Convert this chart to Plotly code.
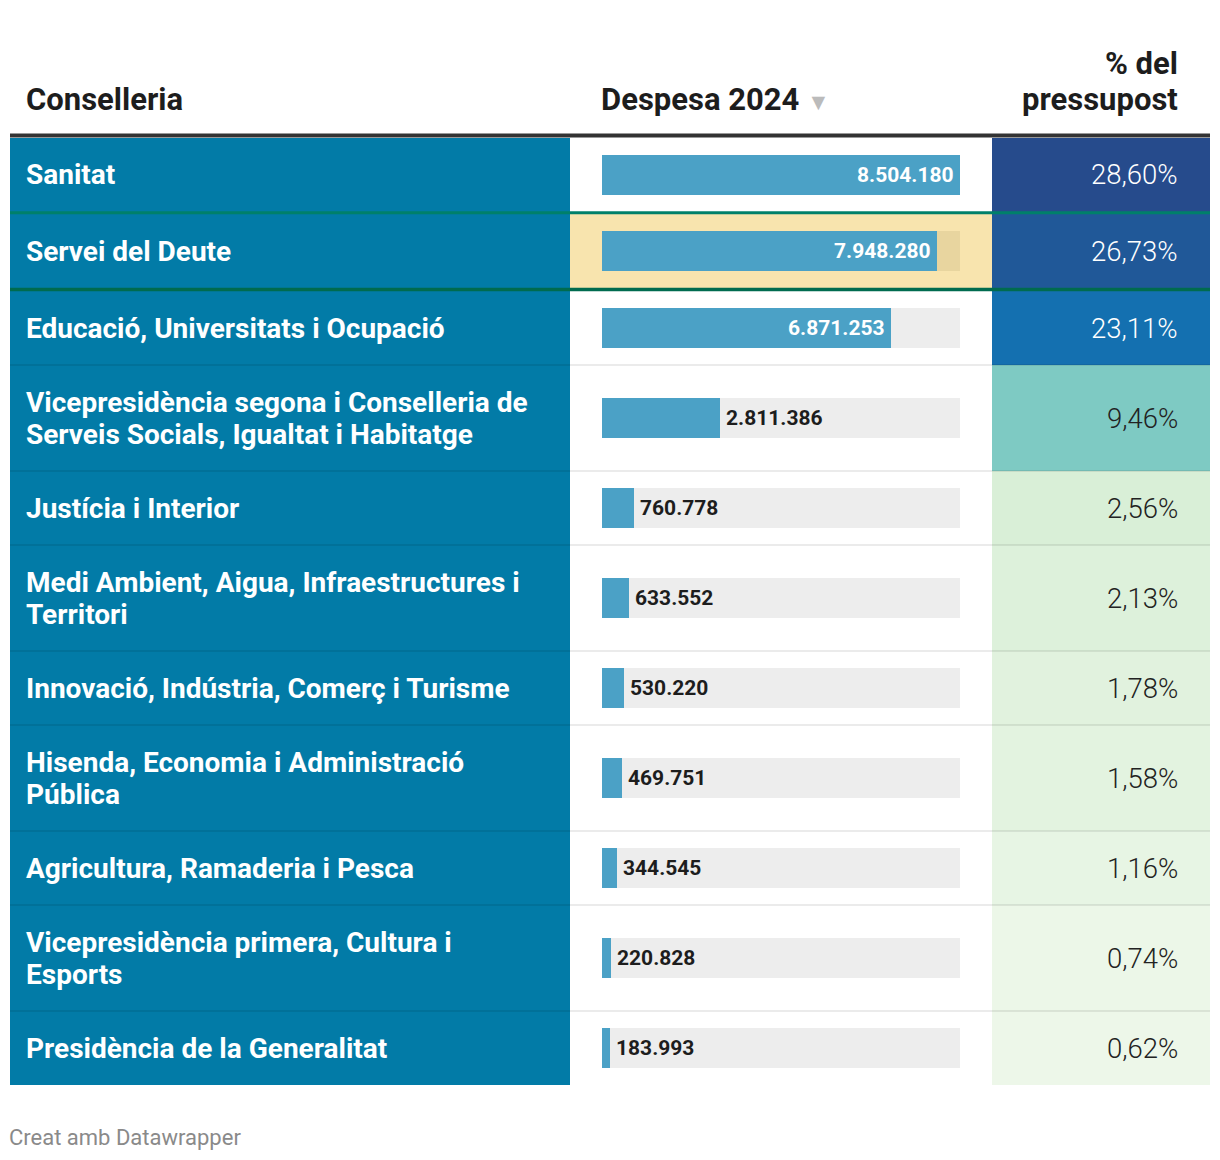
import plotly.graph_objects as go

# ---------------- data ----------------
conselleries = [
    "Sanitat",
    "Servei del Deute",
    "Educació, Universitats i Ocupació",
    "Vicepresidència segona i Conselleria de\nServeis Socials, Igualtat i Habitatge",
    "Justícia i Interior",
    "Medi Ambient, Aigua, Infraestructures i\nTerritori",
    "Innovació, Indústria, Comerç i Turisme",
    "Hisenda, Economia i Administració\nPública",
    "Agricultura, Ramaderia i Pesca",
    "Vicepresidència primera, Cultura i\nEsports",
    "Presidència de la Generalitat",
]
despesa = [8504180, 7948280, 6871253, 2811386, 760778, 633552, 530220,
           469751, 344545, 220828, 183993]
pct_pressupost = [28.60, 26.73, 23.11, 9.46, 2.56, 2.13, 1.78, 1.58, 1.16, 0.74, 0.62]
highlight_row = "Servei del Deute"

col_headers = ["Conselleria", "Despesa 2024", "% del\npressupost"]
footer = "Creat amb Datawrapper"

# ---------------- styles / layout ----------------
W, H = 1220, 1160
FONT = "Roboto"
BLUE_COL = "#027BA7"
BAR_COL = "#4BA1C6"
BAR_BG = "#EDEDED"
HL_BG = "#F8E4AE"
HL_BAR_BG = "#E8D59F"
COL1 = (10, 570)
COL2 = (570, 992)
COL3 = (992, 1210)
BAR_X = (602, 960)
SINGLE_H, DOUBLE_H = 74, 106
TOP0 = 137.5
TEXT_L = 24
TEXT_R = 1180
HEAD_SIZE, LABEL_SIZE, VAL_SIZE, PCT_SIZE = 31, 28, 21, 27.5
LABEL_LS, HEAD_LS = 32, 36

# color scale for % column
stops = [(0.62, "#EDF7E9"), (2.56, "#D9EFD7"), (9.46, "#7ECAC3"),
         (23.11, "#1470B0"), (28.60, "#264B8C")]


def hex2rgb(h):
    h = h.lstrip("#")
    return tuple(int(h[i:i + 2], 16) for i in (0, 2, 4))


def scale_color(v):
    if v <= stops[0][0]:
        return stops[0][1]
    for (v0, c0), (v1, c1) in zip(stops[:-1], stops[1:]):
        if v <= v1:
            t = (v - v0) / (v1 - v0)
            a, b = hex2rgb(c0), hex2rgb(c1)
            return "#%02X%02X%02X" % tuple(round(a[i] + t * (b[i] - a[i])) for i in range(3))
    return stops[-1][1]


def fmt_int(v):
    return f"{v:,}".replace(",", ".")


def fmt_pct(v):
    return f"{v:.2f}".replace(".", ",") + "%"


n = len(conselleries)
hl_idx = conselleries.index(highlight_row)

# row geometry
tops, heights = [], []
y = TOP0
for i, lab in enumerate(conselleries):
    h = DOUBLE_H if "\n" in lab else SINGLE_H
    tops.append(y)
    heights.append(h)
    y += h
    if i == hl_idx - 1:
        y += 2.5
    elif i == hl_idx:
        y += 3
centers = [t + h / 2 for t, h in zip(tops, heights)]
vmax = max(despesa)

fig = go.Figure()

# first column background
fig.add_trace(go.Bar(orientation="h", y=centers, x=[COL1[1] - COL1[0]] * n, base=COL1[0],
                     width=heights, marker=dict(color=BLUE_COL, line_width=0),
                     hoverinfo="skip", xaxis="x", yaxis="y"))
# highlight row background in bar column
fig.add_trace(go.Bar(orientation="h", y=[centers[hl_idx]], x=[COL2[1] - COL2[0]], base=COL2[0],
                     width=[heights[hl_idx]], marker=dict(color=HL_BG, line_width=0),
                     hoverinfo="skip", xaxis="x", yaxis="y"))
# percentage column cells
fig.add_trace(go.Bar(orientation="h", y=centers, x=[COL3[1] - COL3[0]] * n, base=COL3[0],
                     width=heights,
                     marker=dict(color=[scale_color(v) for v in pct_pressupost], line_width=0),
                     hoverinfo="skip", xaxis="x", yaxis="y"))

# bar backgrounds and bars (on value axis)
fig.add_trace(go.Bar(orientation="h", y=centers, x=[vmax] * n, width=40,
                     marker=dict(color=[HL_BAR_BG if i == hl_idx else BAR_BG for i in range(n)],
                                 line_width=0),
                     hoverinfo="skip", xaxis="x2", yaxis="y"))
fig.add_trace(go.Bar(orientation="h", y=centers, x=despesa, width=40,
                     marker=dict(color=BAR_COL, line_width=0),
                     hoverinfo="skip", xaxis="x2", yaxis="y"))

ann = []


def multiline(text, x, yc, spacing, xanchor, size, color, weight, xref="x"):
    lines = text.split("\n")
    k = len(lines)
    for j, line in enumerate(lines):
        ann.append(dict(x=x, y=yc + (j - (k - 1) / 2) * spacing, xref=xref, yref="y",
                        text=line, showarrow=False, xanchor=xanchor, yanchor="middle",
                        font=dict(family=FONT, size=size, color=color, weight=weight)))


# headers
multiline(col_headers[0], TEXT_L, 99, HEAD_LS, "left", HEAD_SIZE, "#1d1d1d", 700)
ann.append(dict(x=BAR_X[0] - 3, y=99, xref="x", yref="y",
                text=col_headers[1] + " <span style='color:#bbbbbb;font-size:23px'>▼</span>",
                showarrow=False, xanchor="left", yanchor="middle",
                font=dict(family=FONT, size=HEAD_SIZE, color="#1d1d1d", weight=700)))
multiline(col_headers[2], TEXT_R, 81, HEAD_LS, "right", HEAD_SIZE, "#1d1d1d", 700)

for i in range(n):
    multiline(conselleries[i], TEXT_L, centers[i], LABEL_LS, "left", LABEL_SIZE, "white", 700)
    inside = despesa[i] / vmax > 0.5
    ann.append(dict(x=despesa[i], y=centers[i], xref="x2", yref="y",
                    text=fmt_int(despesa[i]), showarrow=False,
                    xanchor="right" if inside else "left", xshift=-4 if inside else 4,
                    yanchor="middle",
                    font=dict(family=FONT, size=VAL_SIZE, color="white" if inside else "#1d1d1d",
                              weight=700)))
    ann.append(dict(x=TEXT_R, y=centers[i], xref="x", yref="y", text=fmt_pct(pct_pressupost[i]),
                    showarrow=False, xanchor="right", yanchor="middle",
                    font=dict(family=FONT, size=PCT_SIZE,
                              color="white" if pct_pressupost[i] > 20 else "#222222",
                              weight=300)))

ann.append(dict(x=COL1[0] - 3, y=1137, xref="x", yref="y", text=footer, showarrow=False,
                xanchor="left", yanchor="middle",
                font=dict(family=FONT, size=22, color="#8a8a8a")))

shapes = []
# row separators
for i in range(1, n):
    if i in (hl_idx, hl_idx + 1):
        continue
    shapes.append(dict(type="line", xref="x", yref="y", x0=COL1[0], x1=COL3[1],
                       y0=tops[i], y1=tops[i], line=dict(color="rgba(0,0,0,0.08)", width=2),
                       layer="above"))
# highlight borders
gtop = (tops[hl_idx - 1] + heights[hl_idx - 1] + tops[hl_idx]) / 2
gbot = (tops[hl_idx] + heights[hl_idx] + tops[hl_idx + 1]) / 2
shapes.append(dict(type="line", xref="x", yref="y", x0=COL1[0], x1=COL3[1], y0=gtop, y1=gtop,
                   line=dict(color="#00806A", width=3), layer="above"))
shapes.append(dict(type="line", xref="x", yref="y", x0=COL1[0], x1=COL3[1], y0=gbot, y1=gbot,
                   line=dict(color="#006B4F", width=3.5), layer="above"))
# header rule
shapes.append(dict(type="line", xref="x", yref="y", x0=COL1[0], x1=COL3[1], y0=135.5, y1=135.5,
                   line=dict(color="#333333", width=4), layer="above"))

fig.update_layout(
    width=W, height=H, margin=dict(l=0, r=0, t=0, b=0),
    paper_bgcolor="white", plot_bgcolor="rgba(0,0,0,0)",
    barmode="overlay", bargap=0, showlegend=False, hovermode=False,
    xaxis=dict(range=[0, W], domain=[0, 1], visible=False, fixedrange=True),
    xaxis2=dict(range=[0, vmax], domain=[BAR_X[0] / W, BAR_X[1] / W], anchor="y",
                visible=False, fixedrange=True),
    yaxis=dict(range=[H, 0], domain=[0, 1], visible=False, fixedrange=True),
    annotations=ann, shapes=shapes,
)

fig.write_html("out.html", config={"displayModeBar": False},
               post_script="document.body.style.margin='0px';")
